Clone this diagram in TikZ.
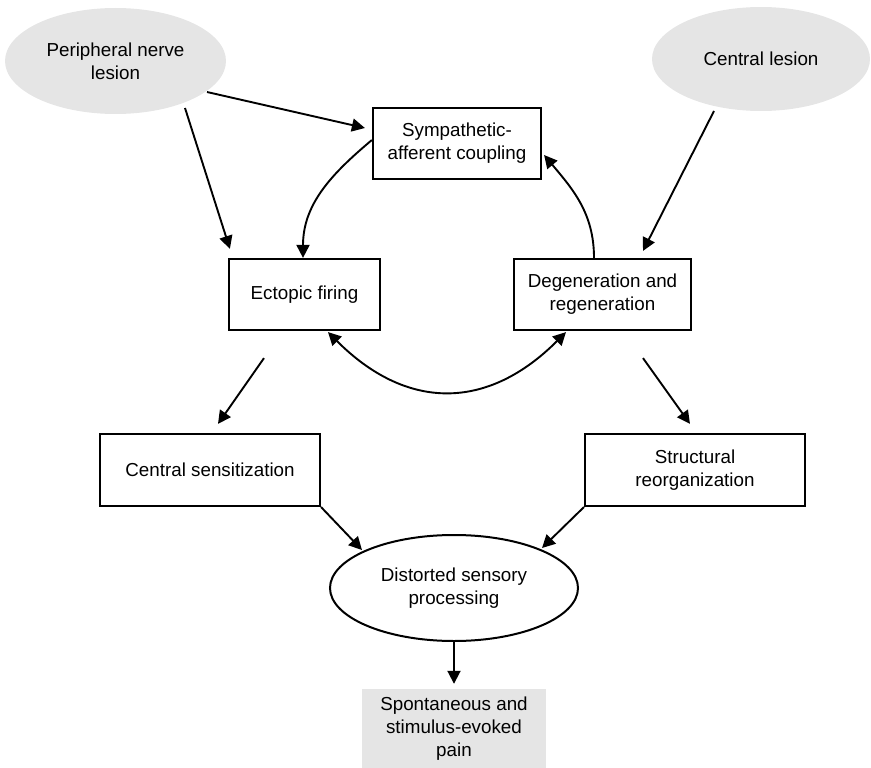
\documentclass[tikz,border=0pt]{standalone}
\usepackage{fontspec}
\setmainfont{Liberation Sans}
\usetikzlibrary{arrows.meta,shapes.geometric}
\definecolor{lightfill}{RGB}{229,229,229}
\begin{document}
\begin{tikzpicture}[x=1pt,y=-1pt,
  every node/.style={font=\fontsize{18.8}{23}\selectfont,align=center,inner sep=0pt},
  box/.style={draw,line width=2.2pt,rectangle},
  lesion/.style={ellipse,fill=lightfill},
  outcome/.style={rectangle,fill=lightfill},
  conn/.style={line width=1.9pt,-{Triangle[length=13pt,width=13pt]}},
  bothconn/.style={line width=1.9pt,{Triangle[length=13pt,width=13pt]}-{Triangle[length=13pt,width=13pt]}}
]
\useasboundingbox (0,0) rectangle (871,768);
% nodes
\node[lesion,minimum width=221pt,minimum height=106pt] (periph) at (115.5,61) {Peripheral nerve\\lesion};
\node[lesion,minimum width=218pt,minimum height=104pt] (central) at (761,59) {Central lesion};
\node[box,minimum width=168pt,minimum height=71pt] (symp) at (457,143.5) {Sympathetic-\\afferent coupling};
\node[box,minimum width=151pt,minimum height=71pt] (ecto) at (304.5,294.5) {Ectopic firing};
\node[box,minimum width=177pt,minimum height=71pt] (degen) at (602.5,294.5) {Degeneration and\\regeneration};
\node[box,minimum width=220pt,minimum height=72pt] (cens) at (210,470) {Central sensitization};
\node[box,minimum width=220pt,minimum height=72pt] (struct) at (695,470) {Structural\\reorganization};
\node[ellipse,draw,line width=2pt,minimum width=248pt,minimum height=106pt] (dist) at (454,588) {Distorted sensory\\processing};
\node[outcome,minimum width=184pt,minimum height=80pt] (pain) at (454,729) {Spontaneous and\\stimulus-evoked\\pain};
% connectors
\draw[conn] ([xshift=91.5pt,yshift=-31pt]periph.center) -- ([xshift=-7pt,yshift=15.5pt]symp.west);
\draw[conn] ([xshift=69.5pt,yshift=-47pt]periph.center) -- ([xshift=2pt,yshift=9pt]ecto.north west);
\draw[conn] ([yshift=3.5pt]symp.west) to[out=-140,in=90] ([xshift=-1.5pt]ecto.north);
\draw[conn] ([xshift=-8.5pt]degen.north) to[out=90,in=-50] ([xshift=2pt,yshift=-11.5pt]symp.east);
\draw[conn] ([xshift=-47pt,yshift=-52pt]central.center) -- ([xshift=40.5pt,yshift=7pt]degen.north);
\draw[bothconn] ([xshift=23.5pt,yshift=-1pt]ecto.south) to[out=-45,in=-135,looseness=1.2] ([xshift=-36.5pt,yshift=-1pt]degen.south);
\draw[conn] ([xshift=-40.5pt,yshift=-27pt]ecto.south) -- ([xshift=8pt,yshift=9pt]cens.north);
\draw[conn] ([xshift=40.5pt,yshift=-27pt]degen.south) -- ([xshift=-5pt,yshift=9pt]struct.north);
\draw[conn] (cens.south east) -- ([xshift=-92pt,yshift=38pt]dist.center);
\draw[conn] (struct.south west) -- ([xshift=88pt,yshift=40pt]dist.center);
\draw[conn] (dist.south) -- ([yshift=5pt]pain.north);
\end{tikzpicture}
\end{document}
